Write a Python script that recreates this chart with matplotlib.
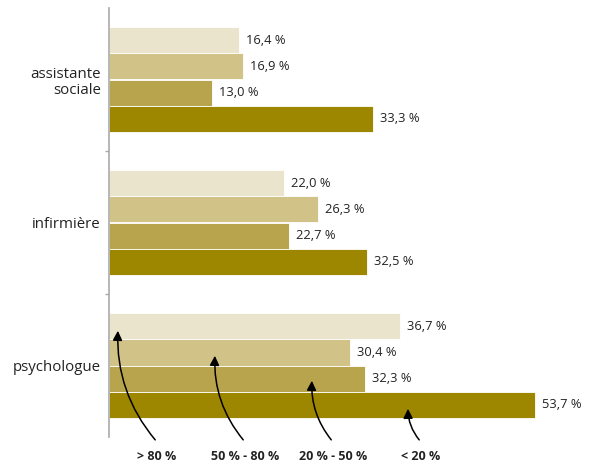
import matplotlib.pyplot as plt
import numpy as np

plt.rcParams['font.family'] = ['Open Sans', 'DejaVu Sans']

categories = ["assistante\nsociale", "infirmière", "psychologue"]
series = ["> 80 %", "50 % - 80 %", "20 % - 50 %", "< 20 %"]
v_80plus = [16.4, 22.0, 36.7]
v_50_80 = [16.9, 26.3, 30.4]
v_20_50 = [13.0, 22.7, 32.3]
v_20less = [33.3, 32.5, 53.7]
colors = ["#ebe4cc", "#d1c287", "#b8a44d", "#9d8600"]

values = [v_80plus, v_50_80, v_20_50, v_20less]

W, H = 594, 465
fig = plt.figure(figsize=(W / 100, H / 100), dpi=100)
ax = fig.add_axes([109 / W, 1 - 437 / H, (585 - 109) / W, (437 - 8) / H])

y = np.arange(len(categories))
bh = 0.182
offsets = (np.arange(4) - 1.5) * bh

for i, (vals, col) in enumerate(zip(values, colors)):
    ax.barh(y + offsets[i], vals, height=bh, color=col, edgecolor="white", linewidth=0.6)
    for yy, v in zip(y, vals):
        ax.text(v + 0.9, yy + offsets[i], f"{v:.1f} %".replace(".", ","),
                va="center", ha="left", fontsize=9.3, color="#222222")

ax.set_xlim(0, 60)
ax.set_ylim(2.5, -0.5)
ax.set_yticks(y)
ax.set_yticklabels(categories, fontsize=10.8, ha="right", color="#222222",
                   linespacing=1.1)
ax.set_yticks([0.5, 1.5], minor=True)
ax.tick_params(axis="y", which="major", length=0, pad=6)
ax.tick_params(axis="y", which="minor", length=3, color="#aaaaaa", width=1)
ax.set_xticks([])
for s in ["top", "right", "bottom"]:
    ax.spines[s].set_visible(False)
ax.spines["left"].set_color("#aaaaaa")
ax.spines["left"].set_linewidth(1.2)

# curved arrows from the bottom labels to the psychologue bars
tails = [157, 245, 333, 421]
heads = [(118, 328), (215, 353), (312, 378), (408, 406)]
for lab, tx, (hx, hy) in zip(series, tails, heads):
    ax.annotate("", xy=(hx / W, 1 - hy / H), xycoords="figure fraction",
                xytext=(tx / W, 1 - 442 / H), textcoords="figure fraction",
                arrowprops=dict(arrowstyle="-|>", color="black", lw=1.1,
                                mutation_scale=14,
                                connectionstyle="arc3,rad=-0.2"),
                annotation_clip=False)
    fig.text(tx / W, 1 - 456 / H, lab, ha="center", va="center",
             fontsize=9, fontweight="bold", color="#222222")

fig.savefig("out.png", dpi=100)
